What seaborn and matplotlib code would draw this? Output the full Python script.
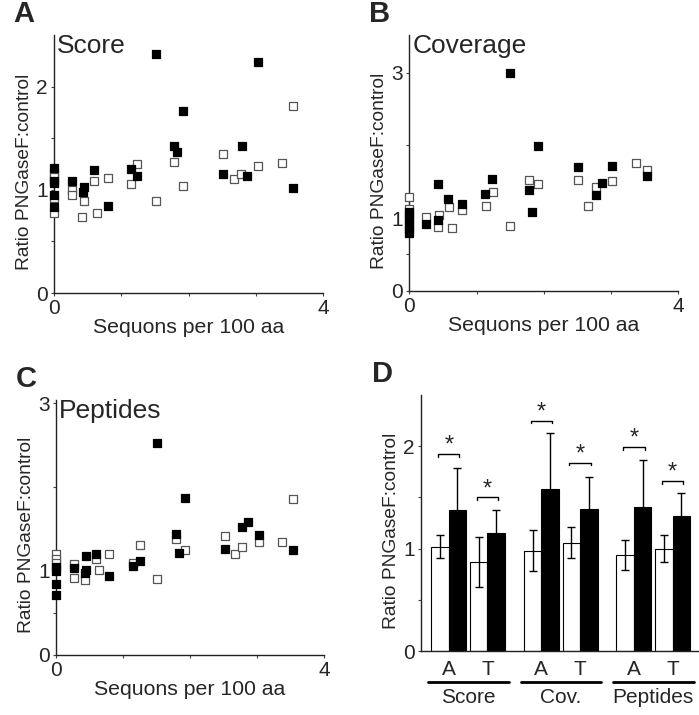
import numpy as np
import pandas as pd
import matplotlib
matplotlib.use("Agg")
import matplotlib.pyplot as plt
import matplotlib.transforms as mtransforms
import seaborn as sns

sns.set_style("ticks")
plt.rcParams["font.family"] = ["Liberation Sans", "DejaVu Sans"]

# scatter data: sequons per 100 aa vs ratio, open = white squares, filled = black squares
score_filled_x = [0, 0, 0, 0, 0, 0.26, 0.43, 0.45, 0.60, 0.80, 1.15, 1.24, 1.51, 1.78, 1.83, 1.92, 2.52, 2.79, 2.87, 3.04, 3.55]
score_filled_y = [1.21, 1.09, 1.07, 0.95, 0.83, 1.09, 0.98, 1.03, 1.19, 0.84, 1.20, 1.13, 2.32, 1.42, 1.37, 1.76, 1.15, 1.42, 1.13, 2.24, 1.02]
score_open_x = [0, 0, 0, 0, 0.26, 0.26, 0.42, 0.44, 0.59, 0.64, 0.80, 1.15, 1.24, 1.51, 1.78, 1.92, 2.52, 2.68, 2.78, 3.04, 3.39, 3.55]
score_open_y = [1.16, 1.12, 0.92, 0.78, 1.00, 0.95, 0.74, 0.89, 1.09, 0.78, 1.11, 1.06, 1.25, 0.89, 1.27, 1.04, 1.35, 1.10, 1.15, 1.23, 1.26, 1.81]

cov_filled_x = [0, 0, 0, 0, 0, 0, 0.25, 0.42, 0.43, 0.58, 0.79, 1.13, 1.23, 1.50, 1.78, 1.82, 1.92, 2.51, 2.77, 2.86, 3.02, 3.53]
cov_filled_y = [1.09, 1.03, 0.97, 0.91, 0.85, 0.79, 0.92, 0.97, 1.47, 1.26, 1.20, 1.33, 1.54, 3.00, 1.39, 1.09, 1.99, 1.70, 1.32, 1.48, 1.72, 1.58]
cov_open_x = [0, 0, 0.25, 0.42, 0.44, 0.59, 0.64, 0.79, 1.14, 1.24, 1.50, 1.78, 1.91, 2.51, 2.66, 2.77, 3.02, 3.37, 3.53]
cov_open_y = [1.29, 1.12, 1.02, 0.88, 1.04, 1.15, 0.87, 1.11, 1.17, 1.36, 0.89, 1.52, 1.47, 1.53, 1.17, 1.43, 1.51, 1.76, 1.66]

pep_filled_x = [0, 0, 0, 0, 0.27, 0.43, 0.45, 0.45, 0.60, 0.79, 1.15, 1.25, 1.51, 1.79, 1.83, 1.93, 2.52, 2.78, 2.86, 3.03, 3.54]
pep_filled_y = [1.05, 1.00, 0.85, 0.71, 1.04, 0.97, 1.01, 1.18, 1.20, 0.94, 1.06, 1.12, 2.53, 1.44, 1.21, 1.87, 1.26, 1.52, 1.59, 1.43, 1.25]
pep_open_x = [0, 0, 0, 0.27, 0.27, 0.44, 0.60, 0.64, 0.79, 1.15, 1.25, 1.51, 1.79, 1.93, 2.52, 2.67, 2.78, 3.03, 3.38, 3.54]
pep_open_y = [1.20, 1.14, 1.09, 1.08, 0.92, 0.89, 1.14, 1.01, 1.20, 1.10, 1.31, 0.90, 1.38, 1.25, 1.42, 1.20, 1.29, 1.34, 1.35, 1.86]

# bar panel data
groups = ["Score", "Cov.", "Peptides"]
subgroups = ["A", "T"]
white_means = [1.02, 0.87, 0.98, 1.06, 0.94, 1.00]
white_err = [0.11, 0.24, 0.20, 0.15, 0.15, 0.13]
black_means = [1.38, 1.15, 1.58, 1.39, 1.41, 1.32]
black_err = [0.41, 0.23, 0.55, 0.31, 0.46, 0.22]
sig_heights = [1.92, 1.50, 2.25, 1.84, 1.99, 1.66]

FS_TICK = 15
FS_YLABEL = 13.8
FS_XLABEL = 15.3
FS_TITLE = 19
FS_LETTER = 21

W, H = 699, 715
fig = plt.figure(figsize=(W / 100, H / 100), dpi=100)


def style_axes(ax, rect, ymax, yticks, ylabels):
    sns.despine(ax=ax)
    for s in ["left", "bottom"]:
        ax.spines[s].set_linewidth(1.0)
        ax.spines[s].set_color("#222222")
    ax.set_ylim(0, ymax)
    ax.set_yticks(yticks)
    ax.set_yticklabels(ylabels)
    ax.tick_params(axis="both", length=2.5, width=0.8, labelsize=FS_TICK, pad=2, color="#444444")
    ax.set_ylabel("Ratio PNGaseF:control", fontsize=FS_YLABEL)
    ax.yaxis.set_label_coords(-21 / (rect[2] * W), 0.47)


def scatter_panel(rect, fx, fy, ox, oy, ymax, yticks, ylabels, title, letter):
    ax = fig.add_axes(rect)
    df_open = pd.DataFrame({"x": ox, "y": oy})
    df_fill = pd.DataFrame({"x": fx, "y": fy})
    sns.scatterplot(data=df_open, x="x", y="y", marker="s", s=30, color="white",
                    edgecolor="#555555", linewidth=0.9, ax=ax, clip_on=False, zorder=3)
    sns.scatterplot(data=df_fill, x="x", y="y", marker="s", s=30, color="black",
                    edgecolor="black", linewidth=0.9, ax=ax, clip_on=False, zorder=4)
    ax.set_xlim(0, 4)
    ax.set_xticks([0, 1, 2, 3, 4])
    ax.set_xticklabels(["0", "", "", "", "4"])
    style_axes(ax, rect, ymax, yticks, ylabels)
    ax.set_xlabel("Sequons per 100 aa", fontsize=FS_XLABEL, labelpad=0)
    ax.text(0.012, 1.005, title, transform=ax.transAxes, ha="left", va="top", fontsize=FS_TITLE)
    fig.text(rect[0] - 0.058, rect[1] + rect[3] + 0.010, letter, fontsize=FS_LETTER,
             fontweight="bold", ha="left", va="bottom")
    return ax


scatter_panel([0.0773, 0.5902, 0.3848, 0.3608], score_filled_x, score_filled_y,
              score_open_x, score_open_y, 2.5, [0, 0.5, 1, 1.5, 2], ["0", "", "1", "", "2"], "Score", "A")
scatter_panel([0.5856, 0.5934, 0.3848, 0.3576], cov_filled_x, cov_filled_y,
              cov_open_x, cov_open_y, 3.52, [0, 0.5, 1, 2, 3], ["0", "", "1", "", "3"], "Coverage", "B")
scatter_panel([0.0801, 0.0843, 0.3834, 0.3562], pep_filled_x, pep_filled_y,
              pep_open_x, pep_open_y, 3.04, [0, 0.5, 1, 2, 3], ["0", "", "1", "", "3"], "Peptides", "C")

# panel D: grouped bars
rectD = [0.6023, 0.0891, 0.3977, 0.3585]
axD = fig.add_axes(rectD)
group_step = 2.39
pair_pos = [g * group_step + s for g in range(len(groups)) for s in range(len(subgroups))]
bar_df = pd.DataFrame({
    "pos": pair_pos * 2,
    "cond": ["ctrl"] * 6 + ["png"] * 6,
    "val": white_means + black_means,
})
sns.barplot(data=bar_df, x="pos", y="val", hue="cond", native_scale=True, width=0.9, gap=0,
            palette={"ctrl": "white", "png": "black"}, edgecolor="black", linewidth=0.8,
            errorbar=None, legend=False, ax=axD, zorder=2)
half = 0.225
pp = np.array(pair_pos)
axD.errorbar(pp - half, white_means, yerr=white_err, fmt="none", ecolor="black",
             elinewidth=1, capsize=3, capthick=1, zorder=3)
axD.errorbar(pp + half, black_means, yerr=black_err, fmt="none", ecolor="black",
             elinewidth=1, capsize=3, capthick=1, zorder=3)
for x0, h in zip(pp, sig_heights):
    axD.plot([x0 - half - 0.05, x0 - half - 0.05, x0 + half + 0.05, x0 + half + 0.05],
             [h - 0.025, h, h, h - 0.025], color="black", lw=1)
    axD.text(x0, h - 0.025, "*", ha="center", va="bottom", fontsize=17)
axD.set_xlim(-0.716, 6.46)
style_axes(axD, rectD, 2.5, [0, 0.5, 1, 1.5, 2], ["0", "", "1", "", "2"])
axD.set_xticks(pp)
axD.set_xticklabels(subgroups * len(groups))
axD.tick_params(axis="x", length=0, pad=6)
axD.set_xlabel("")
trans = mtransforms.blended_transform_factory(axD.transData, axD.transAxes)
for g, name in enumerate(groups):
    c = g * group_step
    axD.plot([c - 0.53, c + 1.55], [-0.12, -0.12], color="black", lw=2,
             transform=trans, clip_on=False)
    axD.text(c + 0.5, -0.145, name, transform=trans, ha="center", va="top", fontsize=FS_TICK)
fig.text(rectD[0] - 0.07, rectD[1] + rectD[3] + 0.010, "D", fontsize=FS_LETTER,
         fontweight="bold", ha="left", va="bottom")

fig.savefig("out.png", dpi=100)
